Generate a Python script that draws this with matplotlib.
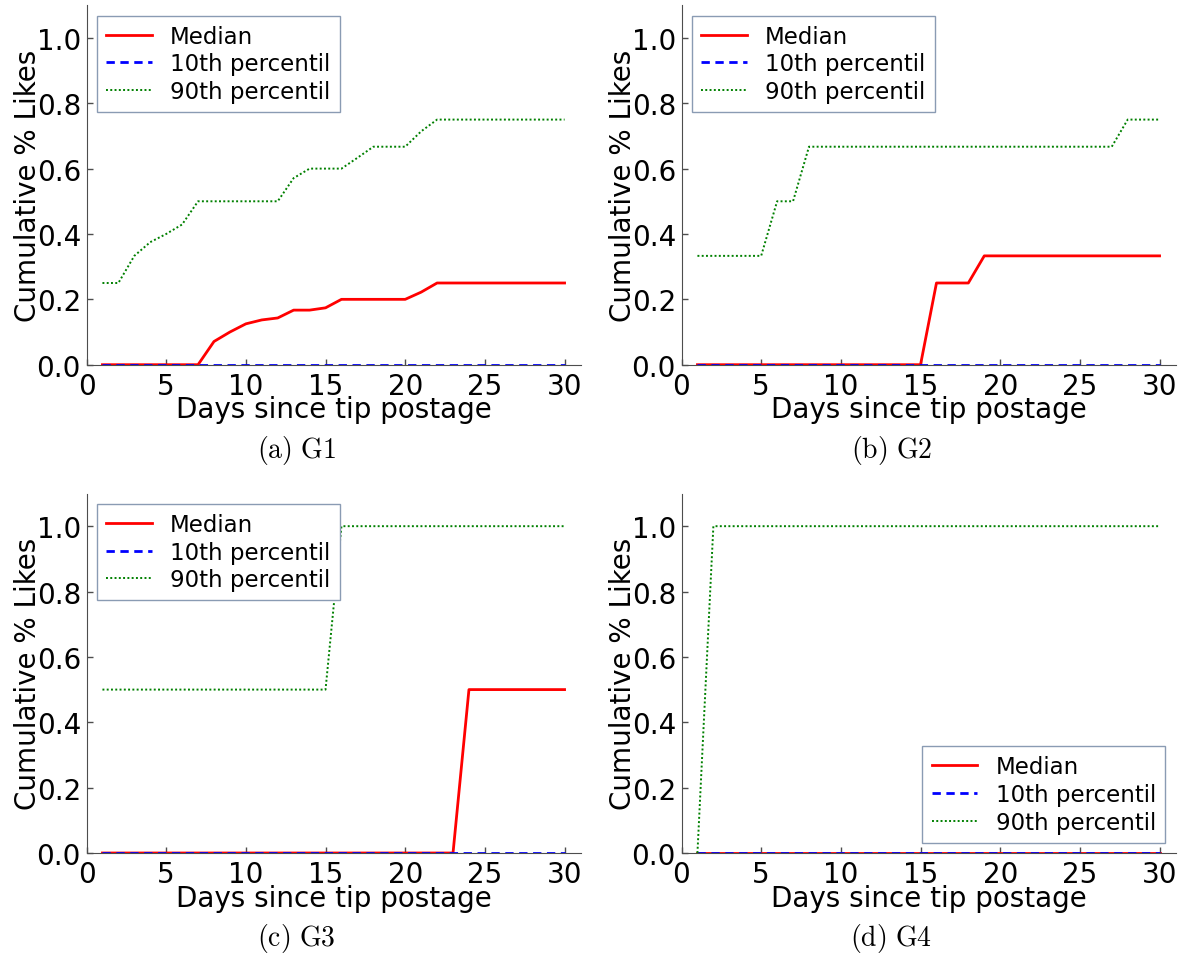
import numpy as np
import matplotlib
matplotlib.use("Agg")
import matplotlib.pyplot as plt

plt.rcParams["font.family"] = "DejaVu Sans"
plt.rcParams["mathtext.fontset"] = "cm"

# data: cumulative share of likes per day
days = np.arange(1, 31)

g1_median = [0, 0, 0, 0, 0, 0, 0, 0.071, 0.1, 0.125, 0.137, 0.143, 0.167, 0.167,
             0.174, 0.2, 0.2, 0.2, 0.2, 0.2, 0.222] + [0.25] * 9
g1_p90 = [0.25, 0.25, 0.333, 0.375, 0.4, 0.429, 0.5, 0.5, 0.5, 0.5, 0.5, 0.5, 0.571,
          0.6, 0.6, 0.6, 0.633, 0.667, 0.667, 0.667, 0.714] + [0.75] * 9

g2_median = [0] * 15 + [0.25] * 3 + [0.333] * 12
g2_p90 = [0.333] * 5 + [0.5] * 2 + [0.667] * 20 + [0.75] * 3

g3_median = [0] * 23 + [0.5] * 7
g3_p90 = [0.5] * 15 + [1.0] * 15

g4_median = [0] * 30
g4_p90 = [0] + [1.0] * 29

p10 = [0] * 30

panels = [
    ("(a)\\ G1", g1_median, g1_p90, "upper left"),
    ("(b)\\ G2", g2_median, g2_p90, "upper left"),
    ("(c)\\ G3", g3_median, g3_p90, "upper left"),
    ("(d)\\ G4", g4_median, g4_p90, "lower right"),
]

fig = plt.figure(figsize=(11.85, 9.54), dpi=100)

W, H = 1185.0, 954.0
lefts = [86.5, 681.5, 86.5, 681.5]
bottoms = [365.7, 365.7, 854.0, 854.0]
aw, ah = 494.0, 359.5

for i, (cap, med, p90, loc) in enumerate(panels):
    ax = fig.add_axes([lefts[i] / W, (H - bottoms[i]) / H, aw / W, ah / H])
    ax.plot(days, med, "r-", lw=2, label="Median")
    ax.plot(days, p10, "b--", lw=2, dashes=(3, 2), label="10th percentil")
    ax.plot(days, p90, "g:", lw=1.4, dashes=(1, 1.2), label="90th percentil")

    ax.set_xlim(0, 31)
    ax.set_ylim(0, 1.1)
    ax.set_xticks([0, 5, 10, 15, 20, 25, 30])
    ax.set_yticks([0.0, 0.2, 0.4, 0.6, 0.8, 1.0])
    ax.set_yticklabels(["0.0", "0.2", "0.4", "0.6", "0.8", "1.0"])
    ax.spines["top"].set_visible(False)
    ax.spines["right"].set_visible(False)
    for s in ["left", "bottom"]:
        ax.spines[s].set_color("0.3")
    ax.tick_params(direction="in", length=4, width=1, colors="0.3",
                   labelcolor="black", labelsize=20, pad=4)
    ax.tick_params(axis="x", pad=5)

    ax.set_xlabel("Days since tip postage", fontsize=20, labelpad=-3)
    ax.set_ylabel("Cumulative % Likes", fontsize=20, labelpad=-4)

    leg = ax.legend(loc=loc, fontsize=16.5, fancybox=False, framealpha=1,
                    borderaxespad=0.45, handlelength=2.0, labelspacing=0.2)
    leg.get_frame().set_edgecolor("#8a9bb3")
    leg.get_frame().set_linewidth(1.0)

    cx = (lefts[i] + aw / 2 - 37) / W
    cy = (H - bottoms[i] - 85) / H
    fig.text(cx, cy, "$\\mathrm{" + cap + "}$", ha="center", va="center", fontsize=20)

fig.savefig("out.png", dpi=100)
